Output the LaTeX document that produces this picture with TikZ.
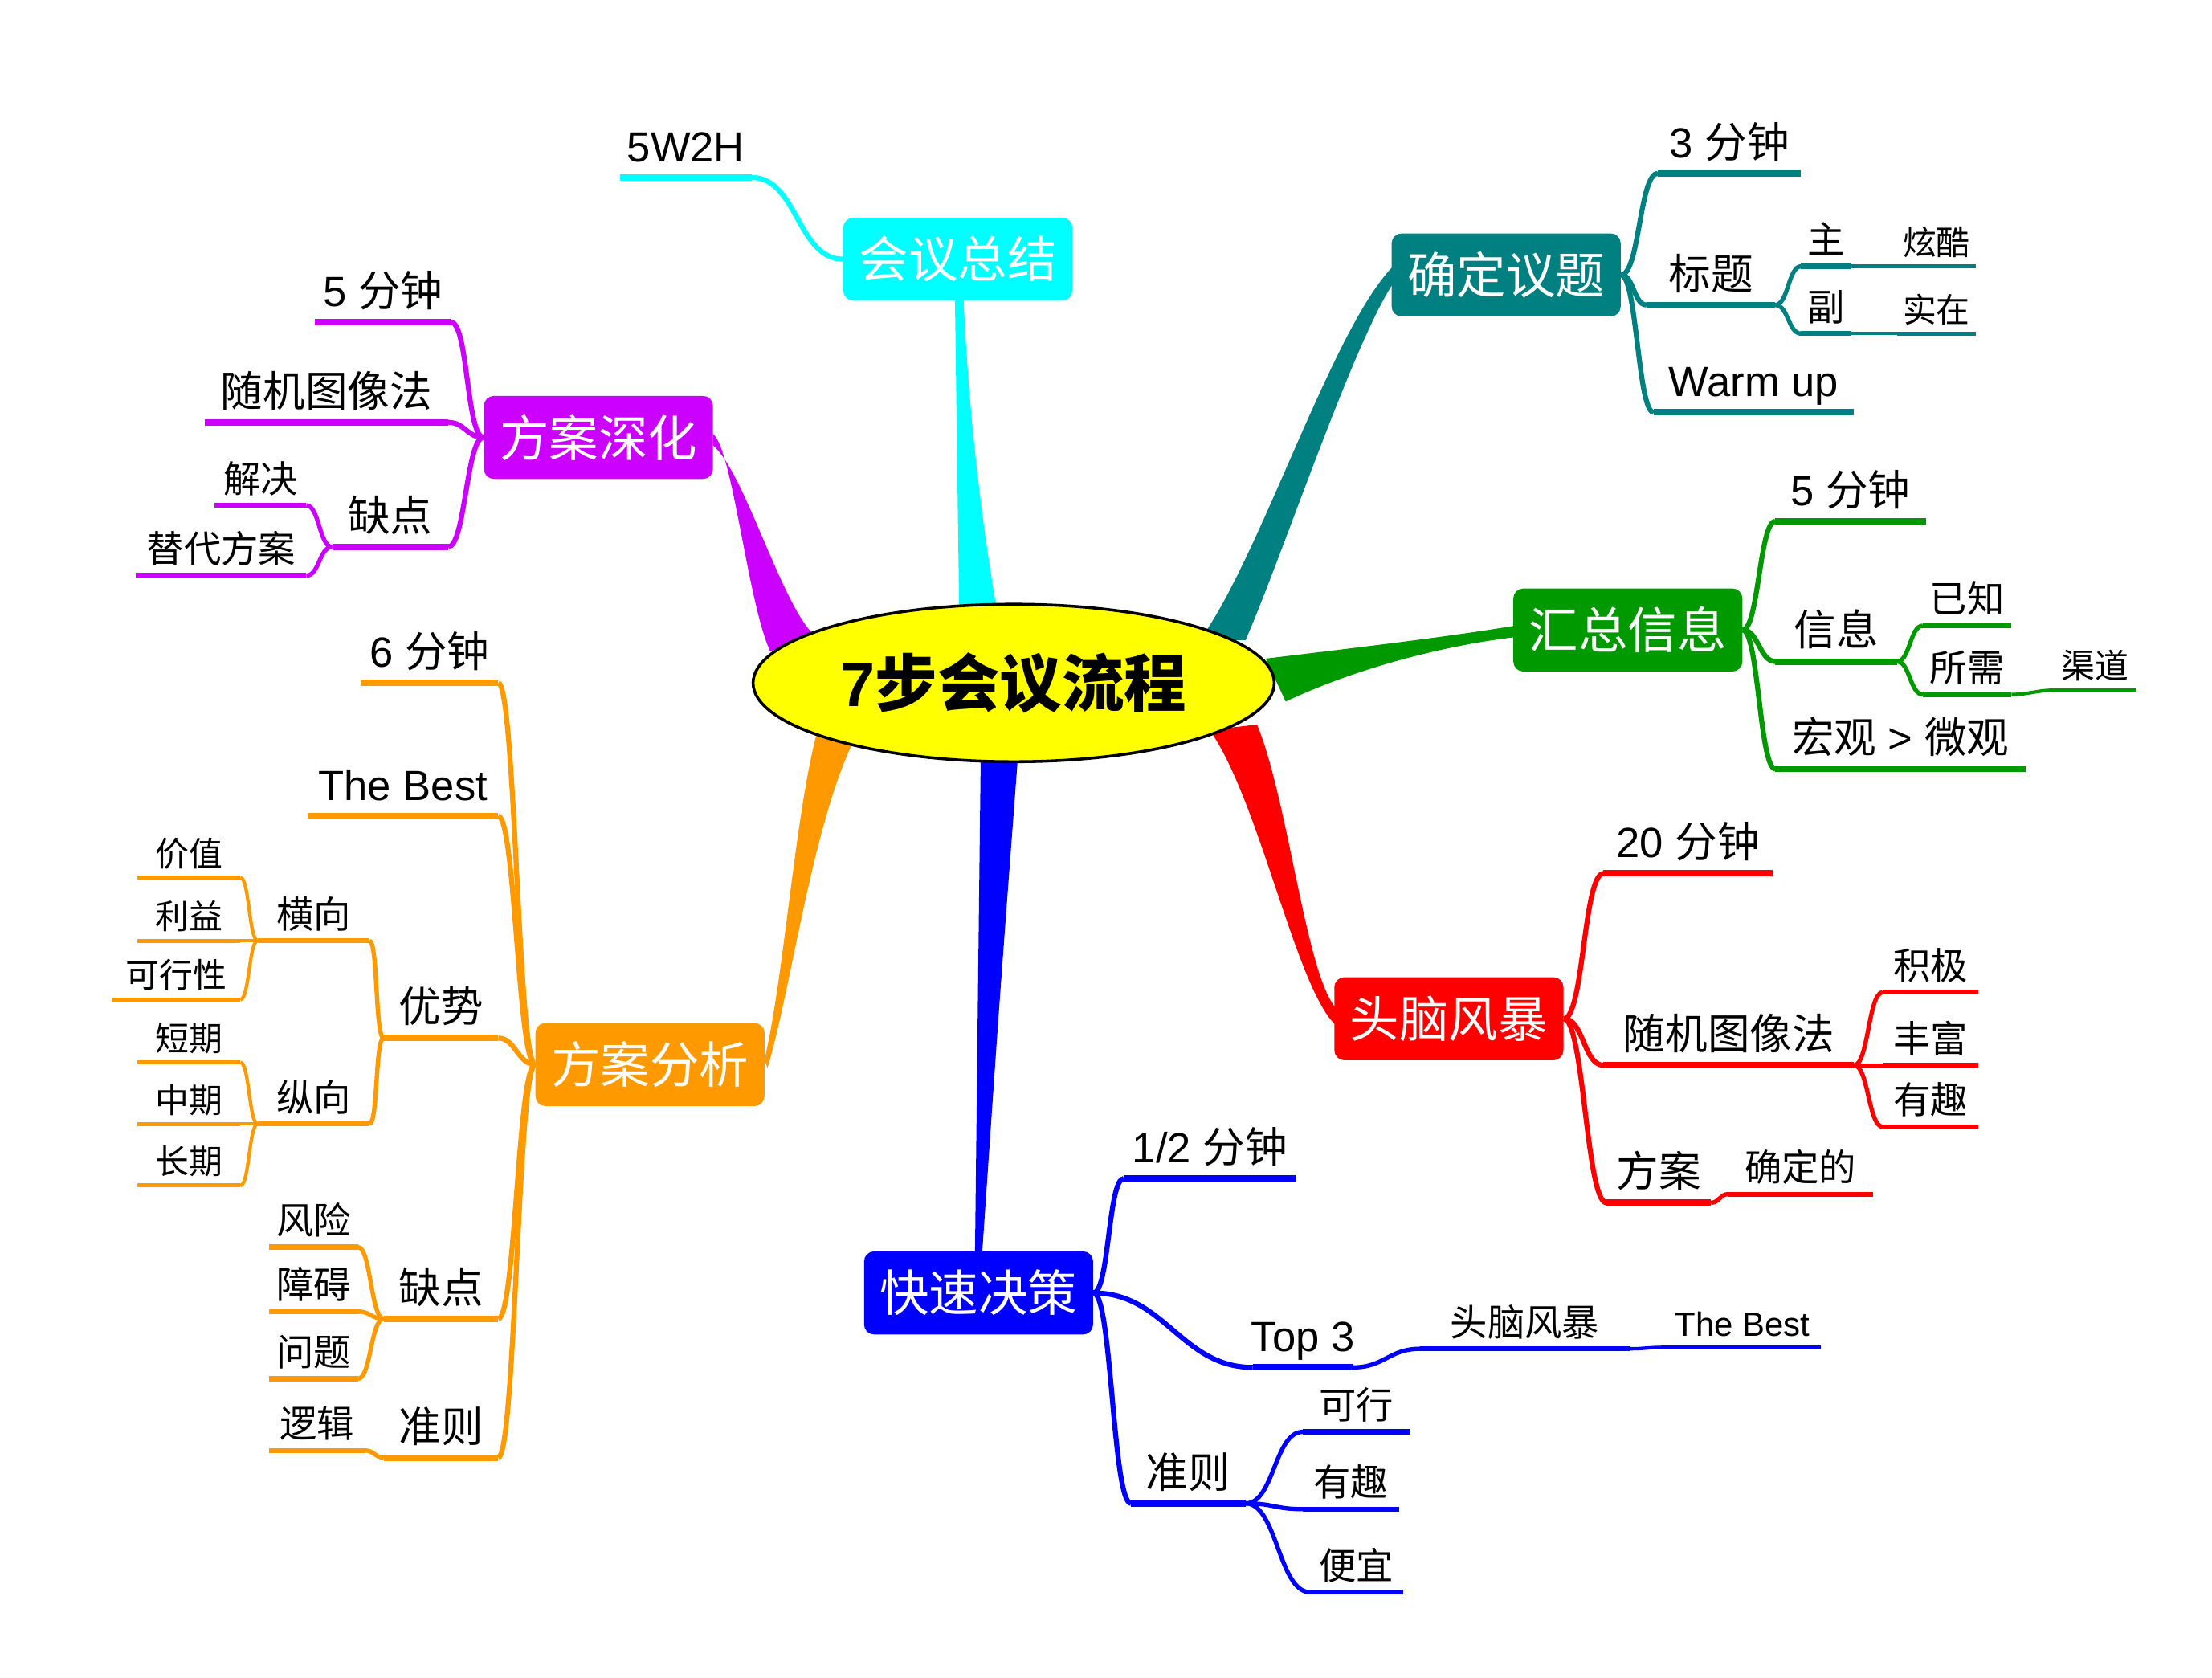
\documentclass[tikz,border=0pt]{standalone}
\usepackage{fontspec}
\setmainfont{Liberation Sans}
\newfontfamily\cjk{Noto Sans CJK SC}
\usetikzlibrary{calc,shapes.geometric}
\newcommand\zh[1]{{\cjk #1}}
\pgfdeclarelayer{bg}
\pgfsetlayers{bg,main}
\definecolor{cC}{HTML}{00FFFF}
\definecolor{cT}{HTML}{008080}
\definecolor{cG}{HTML}{009900}
\definecolor{cR}{HTML}{FF0000}
\definecolor{cB}{HTML}{0000FF}
\definecolor{cO}{HTML}{FF9900}
\definecolor{cP}{HTML}{CC00FF}
\definecolor{cY}{HTML}{FFFF00}
\tikzset{
  topic/.style={rounded corners=7pt, minimum width=160pt, minimum height=58pt, inner sep=0pt,
    text=white, font=\cjk\fontsize{34.5}{37}\selectfont},
  lnA/.style={line width=4.5pt}, cvA/.style={line width=3.5pt},
  txA/.style={anchor=base, yshift=11pt, inner sep=0pt, font=\fontsize{29.5}{32}\selectfont},
  lnB/.style={line width=3.5pt}, cvB/.style={line width=3pt},
  txB/.style={anchor=base, yshift=9pt, inner sep=0pt, font=\fontsize{26}{28}\selectfont},
  lnC/.style={line width=2.8pt}, cvC/.style={line width=2.4pt},
  txC/.style={anchor=base, yshift=8pt, inner sep=0pt, font=\fontsize{23.5}{25}\selectfont},
}
% #1 level, #2 colour, #3 parent point, #4 name, #5 attach x, #6 far x, #7 y, #8 ctrl dx, #9 text
\newcommand\kid[9]{%
  \pgfmathsetmacro\negd{-(#8)}%
  \coordinate (#4a) at (#5,#7);
  \coordinate (#4b) at (#6,#7);
  \draw[#2, cv#1] (#3) .. controls ([xshift=#8pt]#3) and ([xshift=\negd pt]#4a) .. (#4a);
  \draw[#2, ln#1] (#4a) -- (#4b);
  \node[tx#1] (#4) at ($(#4a)!0.5!(#4b)$) {#9};
}
\begin{document}
\begin{tikzpicture}[x=1pt, y=-1pt]
\useasboundingbox (0,0) rectangle (1545,1171.4);

% central topic and main topics
\node[ellipse, draw=black, line width=2pt, fill=cY, minimum width=364pt, minimum height=110pt, inner sep=0pt,
  font=\fontsize{43.5}{47}\selectfont\bfseries] (root) at (708,477) {7\zh{步会议流程}};
\node[topic, fill=cP] (shf) at (418,305.5) {方案深化};
\node[topic, fill=cC] (hyzj) at (669,181) {会议总结};
\node[topic, fill=cT] (qdyt) at (1052,192) {确定议题};
\node[topic, fill=cG] (hzxx) at (1137,440) {汇总信息};
\node[topic, fill=cR] (tnfb) at (1012,711.5) {头脑风暴};
\node[topic, fill=cB] (ksjc) at (683.5,903) {快速决策};
\node[topic, fill=cO] (fafx) at (454,743.5) {方案分析};

% tapered main branches
\begin{pgfonlayer}{bg}
\fill[cP] (498,303) .. controls (512,315) and (522,420) .. (538,455)
  -- (568,443) .. controls (545,420) and (520,330) .. (498,311) -- cycle;
\fill[cC] (670,430) -- (667,209) -- (673,209) .. controls (677,300) and (688,380) .. (697,430) -- cycle;
\fill[cT] (838,447) .. controls (880,390) and (930,230) .. (973,186)
  -- (973,198) .. controls (945,240) and (895,390) .. (870,447) -- cycle;
\fill[cG] (884,460) .. controls (950,452) and (1010,445) .. (1058,437)
  -- (1058,445) .. controls (1000,452) and (940,470) .. (898,490) -- cycle;
\fill[cR] (845,510) .. controls (880,560) and (905,690) .. (933,716)
  -- (933,704) .. controls (912,680) and (900,560) .. (878,506) -- cycle;
\fill[cB] (685,528) .. controls (683,700) .. (681,875) -- (686,875) .. controls (698,700) .. (711,528) -- cycle;
\fill[cO] (571,510) .. controls (555,570) and (548,680) .. (534,740)
  -- (536,746) .. controls (553,690) and (568,570) .. (599,512) -- cycle;
\end{pgfonlayer}

% purple
\kid{A}{cP}{shf.west}{p1}{315}{220}{225}{-12}{5 \zh{分钟}}
\kid{A}{cP}{shf.west}{p2}{313}{143}{295}{-12}{\zh{随机图像法}}
\kid{A}{cP}{shf.west}{p3}{313}{232}{382}{-12}{\zh{缺点}}
\kid{B}{cP}{p3b}{p31}{214}{150}{353}{-9}{\zh{解决}}
\kid{B}{cP}{p3b}{p32}{214}{95}{402}{-9}{\zh{替代方案}}

% cyan
\kid{A}{cC}{hyzj.west}{c1}{525}{433}{124}{-32}{5W2H}

% teal
\kid{A}{cT}{qdyt.east}{t1}{1158}{1258}{121}{13}{3 \zh{分钟}}
\kid{A}{cT}{qdyt.east}{t2}{1150}{1240}{213}{9}{\zh{标题}}
\kid{A}{cT}{qdyt.east}{t3}{1155}{1295}{288}{11}{Warm up}
\kid{B}{cT}{t2b}{t21}{1258}{1293}{186}{9}{\zh{主}}
\kid{B}{cT}{t2b}{t22}{1258}{1293}{233}{9}{\zh{副}}
\kid{C}{cT}{t21b}{t211}{1325}{1380}{186}{10}{\zh{炫酷}}
\kid{C}{cT}{t22b}{t221}{1325}{1380}{233}{10}{\zh{实在}}

% green
\kid{A}{cG}{hzxx.east}{g1}{1240}{1345}{364}{11}{5 \zh{分钟}}
\kid{A}{cG}{hzxx.east}{g2}{1240}{1325}{462}{11}{\zh{信息}}
\kid{A}{cG}{hzxx.east}{g3}{1240}{1415}{537}{11}{\zh{宏观} > \zh{微观}}
\kid{B}{cG}{g2b}{g21}{1343}{1405}{437}{9}{\zh{已知}}
\kid{B}{cG}{g2b}{g22}{1343}{1405}{485}{9}{\zh{所需}}
\kid{C}{cG}{g22b}{g221}{1435}{1492}{482}{12}{\zh{渠道}}

% red
\kid{A}{cR}{tnfb.east}{r1}{1120}{1238}{610}{14}{20 \zh{分钟}}
\kid{A}{cR}{tnfb.east}{r2}{1120}{1295}{744}{14}{\zh{随机图像法}}
\kid{A}{cR}{tnfb.east}{r3}{1122}{1195}{840}{14}{\zh{方案}}
\kid{B}{cR}{r3b}{r31}{1207}{1308}{834}{6}{\zh{确定的}}
\kid{B}{cR}{r2b}{r21}{1315}{1382}{693}{10}{\zh{积极}}
\kid{B}{cR}{r2b}{r22}{1315}{1382}{744}{10}{\zh{丰富}}
\kid{B}{cR}{r2b}{r23}{1315}{1382}{787}{10}{\zh{有趣}}

% blue
\kid{A}{cB}{ksjc.east}{b1}{785}{905}{823}{11}{1/2 \zh{分钟}}
\kid{A}{cB}{ksjc.east}{b2}{875}{945}{955}{50}{Top 3}
\kid{A}{cB}{ksjc.east}{b3}{790}{870}{1050}{13}{\zh{准则}}
\kid{B}{cB}{b2b}{b21}{992}{1138}{942}{22}{\zh{头脑风暴}}
\kid{C}{cB}{b21b}{b211}{1162}{1272}{941}{10}{The Best}
\kid{B}{cB}{b3b}{b31}{910}{985}{1000}{20}{\zh{可行}}
\kid{B}{cB}{b3b}{b32}{910}{977}{1054}{20}{\zh{有趣}}
\kid{B}{cB}{b3b}{b33}{915}{980}{1112}{22}{\zh{便宜}}

% orange
\kid{A}{cO}{fafx.west}{o1}{348}{252}{477}{-12}{6 \zh{分钟}}
\kid{A}{cO}{fafx.west}{o2}{348}{215}{570}{-12}{The Best}
\kid{A}{cO}{fafx.west}{o3}{348}{268}{725}{-12}{\zh{优势}}
\kid{A}{cO}{fafx.west}{o4}{348}{268}{921}{-12}{\zh{缺点}}
\kid{A}{cO}{fafx.west}{o5}{348}{268}{1018}{-12}{\zh{准则}}
\kid{B}{cO}{o3b}{o31}{258}{180}{657}{-6}{\zh{横向}}
\kid{B}{cO}{o3b}{o32}{258}{180}{785}{-6}{\zh{纵向}}
\kid{C}{cO}{o31b}{o311}{168}{96}{613}{-6}{\zh{价值}}
\kid{C}{cO}{o31b}{o312}{168}{96}{657}{-6}{\zh{利益}}
\kid{C}{cO}{o31b}{o313}{168}{78}{698}{-6}{\zh{可行性}}
\kid{C}{cO}{o32b}{o321}{168}{96}{742}{-6}{\zh{短期}}
\kid{C}{cO}{o32b}{o322}{168}{96}{785}{-6}{\zh{中期}}
\kid{C}{cO}{o32b}{o323}{168}{96}{828}{-6}{\zh{长期}}
\kid{B}{cO}{o4b}{o41}{250}{188}{871}{-9}{\zh{风险}}
\kid{B}{cO}{o4b}{o42}{250}{188}{916}{-9}{\zh{障碍}}
\kid{B}{cO}{o4b}{o43}{250}{188}{963}{-9}{\zh{问题}}
\kid{B}{cO}{o5b}{o51}{255}{188}{1013}{-6}{\zh{逻辑}}
\end{tikzpicture}
\end{document}
